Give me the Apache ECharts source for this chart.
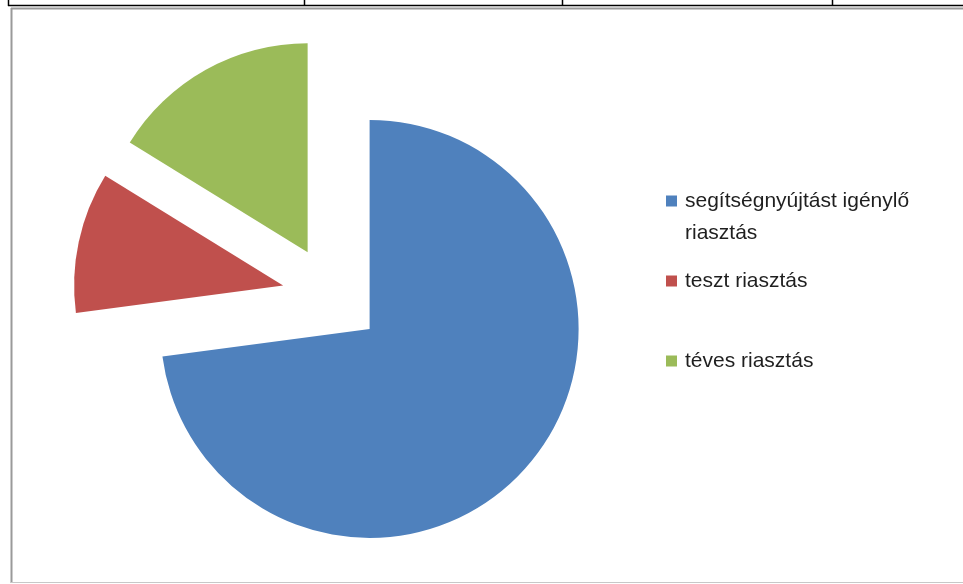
<!DOCTYPE html>
<html>
<head>
<meta charset="utf-8">
<script src="https://cdn.jsdelivr.net/npm/echarts@6/dist/echarts.min.js"></script>
<style>
  html, body { margin: 0; padding: 0; background: #fff; }
  #chart { width: 963px; height: 584px; }
</style>
</head>
<body>
<div id="chart"></div>
<script>
// categories and shares
const categories = ["segítségnyújtást igénylő riasztás", "teszt riasztás", "téves riasztás"];
const values = [72.9, 10.9, 16.2];
const colors = ["#4F81BD", "#C0504D", "#9BBB59"];
const legendTops = [148, 260, 340];

const font = "'Liberation Sans', Arial, sans-serif";

let myChart = echarts.init(document.getElementById("chart"));

let legends = categories.map(function (name, i) {
  return {
    left: 661,
    top: legendTops[i],
    orient: "vertical",
    icon: "rect",
    itemWidth: 11,
    itemHeight: 11,
    selectedMode: false,
    data: [name],
    formatter: function (n) {
      // first item wraps like in the original; leading empty line keeps the icon on line one
      return n === categories[0] ? "\nsegítségnyújtást igénylő\nriasztás" : n;
    },
    textStyle: {
      fontFamily: font,
      fontSize: 21,
      color: "#1f1f1f",
      lineHeight: 32,
      padding: [0, 0, 0, 3],
    },
  };
});

let options = {
  animation: false,
  color: colors,
  legend: legends,
  graphic: [
    // table lines above the chart
    { type: "line", shape: { x1: 8, y1: 5.5, x2: 963, y2: 5.5 }, style: { stroke: "#000", lineWidth: 1.5 } },
    { type: "line", shape: { x1: 8.5, y1: 0, x2: 8.5, y2: 6 }, style: { stroke: "#000", lineWidth: 1.5 } },
    { type: "line", shape: { x1: 304.5, y1: 0, x2: 304.5, y2: 6 }, style: { stroke: "#000", lineWidth: 1.5 } },
    { type: "line", shape: { x1: 562.5, y1: 0, x2: 562.5, y2: 6 }, style: { stroke: "#000", lineWidth: 1.5 } },
    { type: "line", shape: { x1: 832.5, y1: 0, x2: 832.5, y2: 6 }, style: { stroke: "#000", lineWidth: 1.5 } },
    // chart frame
    { type: "line", shape: { x1: 11, y1: 8.5, x2: 963, y2: 8.5 }, style: { stroke: "#9a9a9a", lineWidth: 2 } },
    { type: "line", shape: { x1: 11.5, y1: 8, x2: 11.5, y2: 583 }, style: { stroke: "#9a9a9a", lineWidth: 2 } },
    { type: "line", shape: { x1: 11, y1: 582.5, x2: 963, y2: 582.5 }, style: { stroke: "#c8c8c8", lineWidth: 1 } },
  ],
  series: [
    {
      type: "pie",
      center: [332, 296],
      radius: 209,
      startAngle: 90,
      clockwise: true,
      selectedMode: "multiple",
      selectedOffset: 50,
      label: { show: false },
      labelLine: { show: false },
      emphasis: { disabled: true },
      itemStyle: { borderWidth: 0 },
      data: categories.map(function (name, i) {
        return { name: name, value: values[i], selected: true };
      }),
    },
  ],
};

myChart.setOption(options);
</script>
</body>
</html>
